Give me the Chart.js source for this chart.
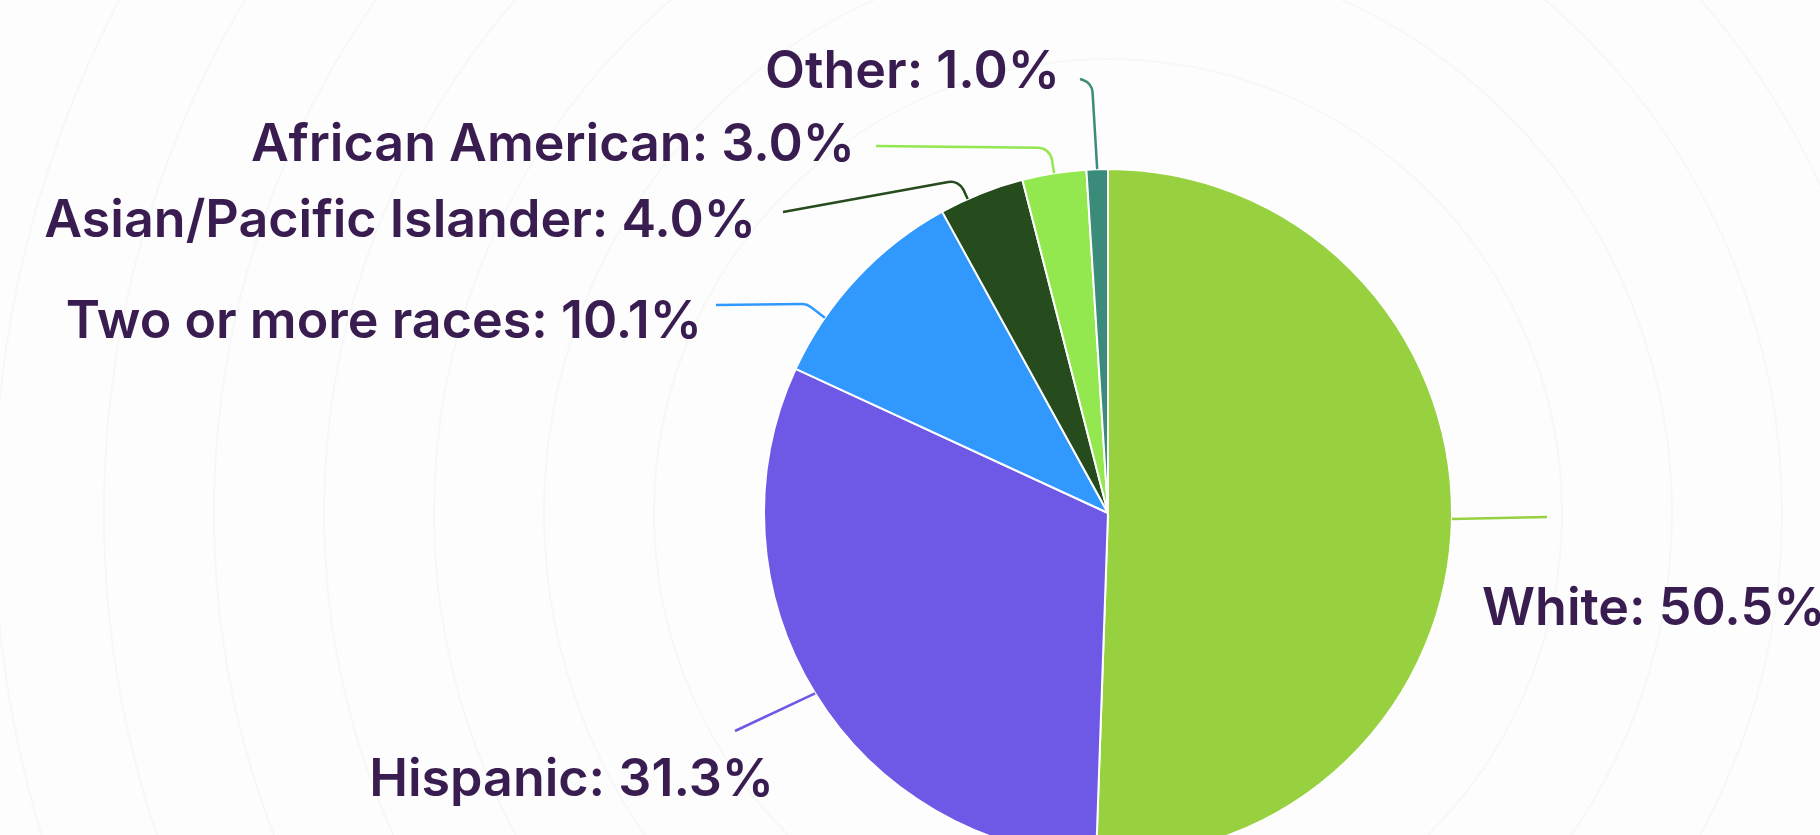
<!DOCTYPE html>
<html>
<head>
<meta charset="utf-8">
<script src="https://cdn.jsdelivr.net/npm/chart.js@4/dist/chart.umd.min.js"></script>
<style>
  html, body { margin: 0; padding: 0; background: #fdfdfd; overflow: hidden; }
  #wrap { position: absolute; left: 0; top: 0; width: 1820px; height: 880px; }
</style>
</head>
<body>
<div id="wrap"><canvas id="pieChart"></canvas></div>
<script>
// ── data ─────────────────────────────────────────────
const groups  = ['White', 'Hispanic', 'Two or more races', 'Asian/Pacific Islander', 'African American', 'Other'];
const shares  = [50.5, 31.3, 10.1, 4.0, 3.0, 1.0];
const colours = ['#97d13f', '#6e58e6', '#3199fe', '#264b1d', '#93e74f', '#3a8b79'];

// label layout, px offsets from pie centre (not data)
const spots = [
  { at: 0.5,  end: [439, 4],      text: [374, 96],   align: 'left'  },
  { at: 0.5,  end: [-373, 218],   text: [-334, 267], align: 'right' },
  { at: 0.27, elbow: [-301, -209], end: [-392, -208], text: [-406, -191], align: 'right' },
  { at: 0.33, elbow: [-149, -333], end: [-325, -301], text: [-352, -292], align: 'right' },
  { at: 0.5,  elbow: [-58, -365],  end: [-232, -367], text: [-253, -368], align: 'right' },
  { at: 0.5,  elbow: [-16, -430],  end: [-28, -434],  text: [-48, -441],  align: 'right' }
];

// very faint rings behind the pie
const backdrop = {
  id: 'backdrop',
  beforeDatasetsDraw(chart) {
    const arc = chart.getDatasetMeta(0).data[0];
    if (!arc) return;
    const ctx = chart.ctx;
    ctx.save();
    ctx.strokeStyle = '#f7f7f7';
    ctx.lineWidth = 2;
    for (let k = 1; k <= 8; k++) {
      ctx.beginPath();
      ctx.arc(arc.x, arc.y, arc.outerRadius + k * 110, 0, Math.PI * 2);
      ctx.stroke();
    }
    ctx.restore();
  }
};

const callouts = {
  id: 'callouts',
  afterDatasetsDraw(chart) {
    const ctx  = chart.ctx;
    const arcs = chart.getDatasetMeta(0).data;
    ctx.save();
    arcs.forEach((arc, i) => {
      const s  = spots[i];
      const cx = arc.x, cy = arc.y;
      const a  = arc.startAngle + (arc.endAngle - arc.startAngle) * s.at;
      const sx = cx + Math.cos(a) * arc.outerRadius;
      const sy = cy + Math.sin(a) * arc.outerRadius;

      ctx.strokeStyle = colours[i];
      ctx.lineWidth = 2.5;
      ctx.beginPath();
      ctx.moveTo(sx, sy);
      if (s.elbow) ctx.arcTo(cx + s.elbow[0], cy + s.elbow[1], cx + s.end[0], cy + s.end[1], 14);
      ctx.lineTo(cx + s.end[0], cy + s.end[1]);
      ctx.stroke();

      ctx.fillStyle = '#3a1d50';
      ctx.font = '600 52px Inter';
      ctx.textAlign = s.align;
      ctx.textBaseline = 'middle';
      ctx.fillText(groups[i] + ': ' + shares[i].toFixed(1) + '%', cx + s.text[0], cy + s.text[1]);
    });
    ctx.restore();
  }
};

function draw() {
  new Chart(document.getElementById('pieChart'), {
    type: 'pie',
    data: {
      labels: groups,
      datasets: [{
        data: shares,
        backgroundColor: colours,
        borderColor: '#ffffff',
        borderWidth: 2
      }]
    },
    options: {
      responsive: true,
      maintainAspectRatio: false,
      animation: false,
      layout: { padding: { left: 763, right: 367, top: 168, bottom: 22 } },
      plugins: { legend: { display: false }, tooltip: { enabled: false } }
    },
    plugins: [backdrop, callouts]
  });
}

document.fonts.load('600 52px Inter').then(draw, draw);
</script>
</body>
</html>
